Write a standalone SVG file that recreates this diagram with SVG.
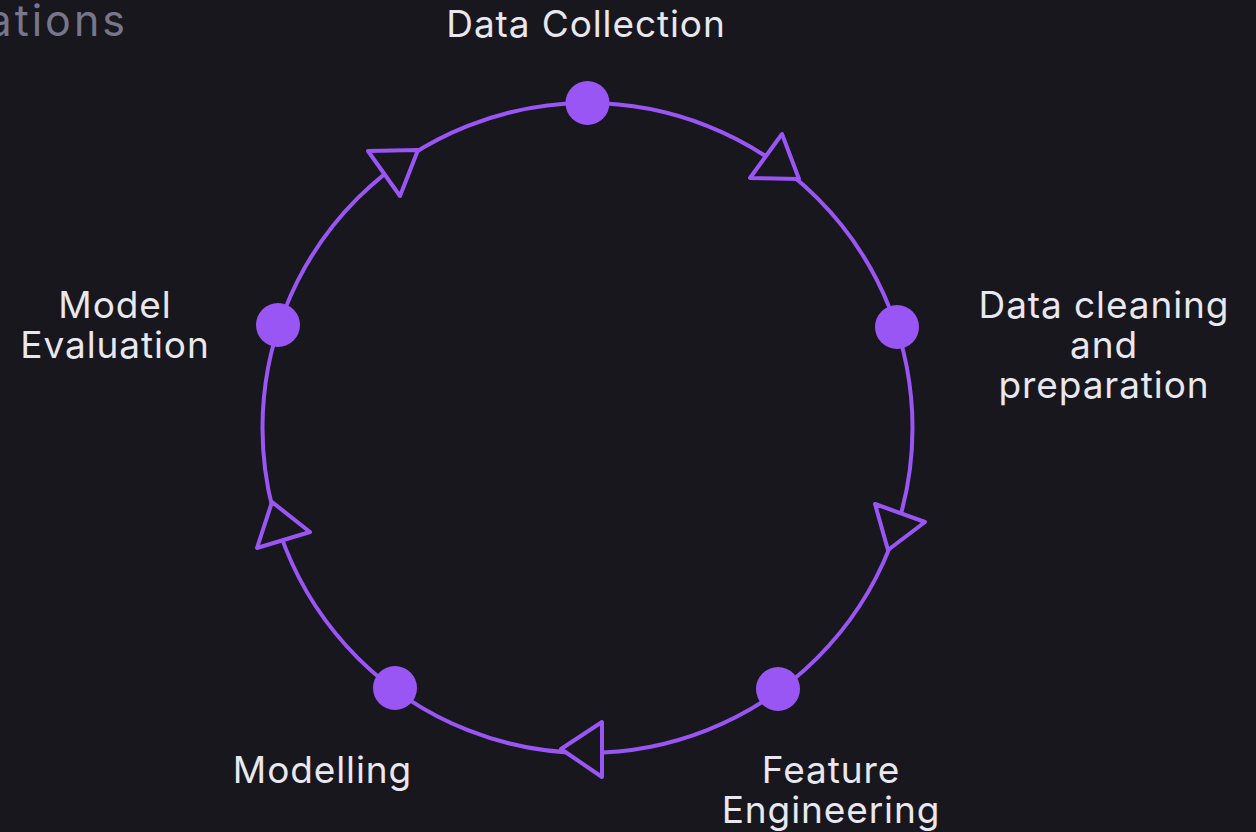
<svg xmlns="http://www.w3.org/2000/svg" width="1256" height="832" viewBox="0 0 1256 832">
<style>
.lbl{font-family:Inter,"Noto Sans","Liberation Sans",sans-serif;font-size:37px;letter-spacing:0.9px;fill:#e9e7ef;text-anchor:middle}
.ring{fill:none;stroke:#9a55f5;stroke-width:4}
.dot{fill:#9a55f5}
.arr{fill:#18171d;stroke:#9a55f5;stroke-width:4;stroke-linejoin:round}
</style>
<rect width="1256" height="832" fill="#18171d"/>
<text x="128" y="36" style="font-family:Inter,'Noto Sans','Liberation Sans',sans-serif;font-size:43px;letter-spacing:3px;fill:#77768a" text-anchor="end">ations</text>
<g id="connectors">
<circle class="ring" cx="587.5" cy="428" r="325"/>
<polygon class="arr" points="782,134 750,178 799,179"/>
<polygon class="arr" points="875,504 925,522 888,550"/>
<polygon class="arr" points="561,749 602,722 602,777"/>
<polygon class="arr" points="272,502 310,532 257,548"/>
<polygon class="arr" points="368,151 418,150 400,196"/>
</g>
<g id="node-data-collection">
<circle class="dot" cx="587.5" cy="103" r="22"/>
<text class="lbl" x="586" y="37">Data Collection</text>
</g>
<g id="node-data-cleaning">
<circle class="dot" cx="897" cy="327" r="22"/>
<text class="lbl" x="1104" y="318">Data cleaning</text>
<text class="lbl" x="1104" y="358">and</text>
<text class="lbl" x="1104" y="398">preparation</text>
</g>
<g id="node-feature-engineering">
<circle class="dot" cx="778" cy="689" r="22"/>
<text class="lbl" x="831" y="783">Feature</text>
<text class="lbl" x="831" y="823">Engineering</text>
</g>
<g id="node-modelling">
<circle class="dot" cx="395" cy="688" r="22"/>
<text class="lbl" x="322.5" y="783">Modelling</text>
</g>
<g id="node-model-evaluation">
<circle class="dot" cx="278" cy="325" r="22"/>
<text class="lbl" x="115" y="318">Model</text>
<text class="lbl" x="115" y="358">Evaluation</text>
</g>
</svg>
